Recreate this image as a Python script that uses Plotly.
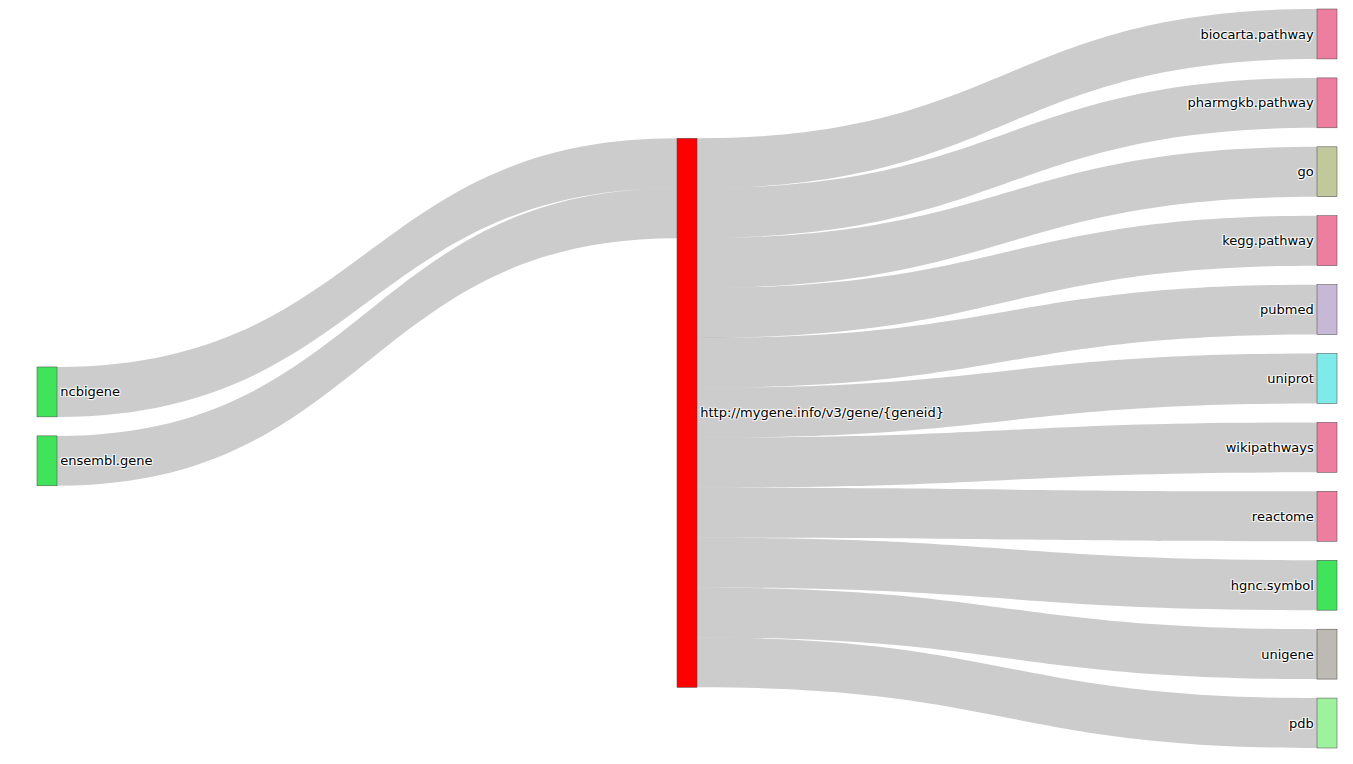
import plotly.graph_objects as go

labels = ["ncbigene", "ensembl.gene", "http://mygene.info/v3/gene/{geneid}",
          "biocarta.pathway", "pharmgkb.pathway", "go", "kegg.pathway", "pubmed",
          "uniprot", "wikipathways", "reactome", "hgnc.symbol", "unigene", "pdb"]
node_colors = ["#40e35a", "#40e35a", "#ff0000",
               "#ee7ea0", "#ee7ea0", "#c1c89c", "#ee7ea0", "#c8b8d8",
               "#7eeaea", "#ee7ea0", "#ee7ea0", "#40e35a", "#bdb9b3", "#9ef29e"]
sources = [0, 1, 2, 2, 2, 2, 2, 2, 2, 2, 2, 2, 2]
targets = [2, 2, 3, 4, 5, 6, 7, 8, 9, 10, 11, 12, 13]
values = [1, 1, 1, 1, 1, 1, 1, 1, 1, 1, 1, 1, 1]

fig = go.Figure(go.Sankey(
    node=dict(label=labels, color=node_colors, pad=19, thickness=20,
              line=dict(color="#444", width=0.5)),
    link=dict(source=sources, target=targets, value=values),
    textfont=dict(family="Verdana, DejaVu Sans, sans-serif", size=13, color="#000"),
))
fig.update_layout(width=1353, height=764, margin=dict(l=37, r=16, t=9, b=16),
                  paper_bgcolor="white", font=dict(family="Verdana, DejaVu Sans, sans-serif", size=13))
fig.write_html("out.html")
